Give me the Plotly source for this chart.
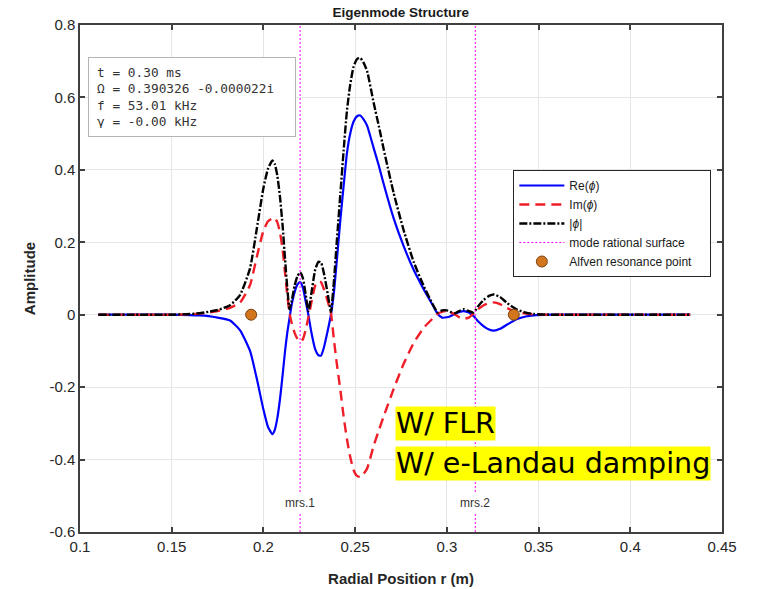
import plotly.graph_objects as go

# ---------------- data ----------------
r = [0.110, 0.130, 0.150, 0.160, 0.165, 0.170, 0.175, 0.1818, 0.1873, 0.1927,
     0.1964, 0.2000, 0.2025, 0.2049, 0.2062, 0.2076, 0.2091, 0.2105, 0.2118, 0.2130,
     0.2142, 0.2155, 0.2170, 0.2185, 0.2200, 0.2215, 0.2230, 0.2245, 0.2260, 0.2282,
     0.2300, 0.2314, 0.2330, 0.2350, 0.2368, 0.2385, 0.2400, 0.2420, 0.2437, 0.2455,
     0.2473, 0.2491, 0.2510, 0.2528, 0.2545, 0.2565, 0.2601, 0.2630, 0.2656, 0.2710,
     0.2764, 0.2819, 0.2874, 0.2928, 0.2950, 0.2974, 0.3000, 0.3019, 0.3046, 0.3070,
     0.3092, 0.3120, 0.3146, 0.3170, 0.3201, 0.3230, 0.3256, 0.3290, 0.3329, 0.3383,
     0.3430, 0.3474, 0.3550, 0.4000, 0.4327]

re_phi = [0, 0, 0, -0.001, -0.002, -0.004, -0.008, -0.016, -0.043, -0.100,
          -0.177, -0.262, -0.310, -0.330, -0.318, -0.285, -0.230, -0.165, -0.100, -0.050,
          -0.010, 0.030, 0.062, 0.083, 0.090, 0.075, 0.038, 0.000, -0.045, -0.095,
          -0.112, -0.113, -0.090, -0.045, 0.000, 0.065, 0.150, 0.265, 0.355, 0.445,
          0.500, 0.533, 0.548, 0.550, 0.540, 0.522, 0.460, 0.410, 0.360, 0.266,
          0.190, 0.124, 0.070, 0.022, 0.002, -0.008, -0.007, -0.004, 0.003, 0.008,
          0.010, 0.006, -0.004, -0.018, -0.032, -0.041, -0.044, -0.039, -0.027, -0.012,
          -0.005, -0.002, 0, 0, 0]

im_phi = [0, 0, 0, 0.001, 0.003, 0.006, 0.010, 0.019, 0.034, 0.082,
          0.160, 0.232, 0.258, 0.266, 0.267, 0.255, 0.225, 0.178, 0.115, 0.055,
          0.005, -0.025, -0.050, -0.066, -0.075, -0.068, -0.042, -0.008, 0.030, 0.080,
          0.093, 0.090, 0.070, 0.038, 0.005, -0.072, -0.135, -0.210, -0.280, -0.343,
          -0.392, -0.428, -0.445, -0.448, -0.440, -0.425, -0.362, -0.318, -0.280, -0.205,
          -0.136, -0.078, -0.036, -0.008, 0.003, 0.008, 0.010, 0.007, 0.000, -0.008,
          -0.011, -0.008, 0.004, 0.015, 0.026, 0.032, 0.034, 0.029, 0.018, 0.007,
          0.003, 0.001, 0, 0, 0]

abs_phi = [0, 0, 0, 0.002, 0.004, 0.008, 0.013, 0.026, 0.055, 0.128,
           0.238, 0.350, 0.403, 0.426, 0.416, 0.383, 0.322, 0.243, 0.152, 0.074,
           0.015, 0.040, 0.080, 0.106, 0.117, 0.101, 0.057, 0.010, 0.054, 0.124,
           0.146, 0.144, 0.114, 0.059, 0.008, 0.097, 0.202, 0.338, 0.452, 0.562,
           0.635, 0.684, 0.706, 0.709, 0.697, 0.673, 0.585, 0.519, 0.456, 0.336,
           0.234, 0.146, 0.079, 0.024, 0.006, 0.012, 0.012, 0.008, 0.004, 0.011,
           0.015, 0.010, 0.006, 0.023, 0.041, 0.052, 0.056, 0.049, 0.032, 0.014,
           0.006, 0.002, 0, 0, 0]

mrs_r = [0.2200, 0.3155]
mrs_labels = ["mrs.1", "mrs.2"]
mrs_label_y = -0.52

alfven_r = [0.1933, 0.3365]
alfven_amp = [0.0, 0.0]

x_range = [0.1, 0.45]
y_range = [-0.6, 0.8]
x_ticks = [0.1, 0.15, 0.2, 0.25, 0.3, 0.35, 0.4, 0.45]
x_ticklabels = ["0.1", "0.15", "0.2", "0.25", "0.3", "0.35", "0.4", "0.45"]
y_ticks = [-0.6, -0.4, -0.2, 0, 0.2, 0.4, 0.6, 0.8]
y_ticklabels = ["-0.6", "-0.4", "-0.2", "0", "0.2", "0.4", "0.6", "0.8"]

info_lines = ["t = 0.30 ms", "Ω = 0.390326 -0.000022i", "f = 53.01 kHz", "γ = -0.00 kHz"]
note_lines = ["W/ FLR", "W/ e-Landau damping"]

# ---------------- figure ----------------
SANS = "Liberation Sans, Arial, sans-serif"
PAD = "\u00a0" * 4
fig = go.Figure()

fig.add_trace(go.Scatter(x=r, y=re_phi, mode="lines", name="Re(<i>ϕ</i>)",
                         line=dict(color="#0000FF", width=2.2, shape="spline", smoothing=0.5)))
fig.add_trace(go.Scatter(x=r, y=im_phi, mode="lines", name="Im(<i>ϕ</i>)",
                         line=dict(color="#F01E28", width=2.4, dash="10px,6px",
                                   shape="spline", smoothing=0.5)))
fig.add_trace(go.Scatter(x=r, y=abs_phi, mode="lines", name="|<i>ϕ</i>|",
                         line=dict(color="#000000", width=2.4, dash="8px,2px,2px,2px",
                                   shape="spline", smoothing=0.5)))

for i, xm in enumerate(mrs_r):
    fig.add_trace(go.Scatter(x=[xm, xm], y=y_range, mode="lines",
                             name="mode rational surface", legendgroup="mrs",
                             showlegend=(i == 0),
                             line=dict(color="#FF00FF", width=1, dash="2px,2px")))

fig.add_trace(go.Scatter(x=alfven_r, y=alfven_amp, mode="markers",
                         name="Alfven resonance point" + PAD,
                         marker=dict(color="#D2761E", size=11,
                                     line=dict(color="#7A4010", width=1))))

for xm, lab in zip(mrs_r, mrs_labels):
    fig.add_annotation(x=xm, y=mrs_label_y, xref="x", yref="y", text=lab,
                       showarrow=False, bgcolor="white", borderpad=2,
                       font=dict(family=SANS, size=12, color="#333333"))

fig.add_annotation(x=0.0117, y=0.937, xref="paper", yref="paper",
                   xanchor="left", yanchor="top", align="left",
                   text="<br>".join(info_lines), showarrow=False,
                   width=190, height=62,
                   bgcolor="white", bordercolor="#B4B4B4", borderwidth=1, borderpad=8,
                   font=dict(family="DejaVu Sans Mono, monospace", size=12.8, color="#333333"))

note_y = [0.248, 0.169]
for txt, yy in zip(note_lines, note_y):
    fig.add_annotation(x=0.4905, y=yy, xref="paper", yref="paper",
                       xanchor="left", yanchor="top", align="left",
                       text=txt, showarrow=False, bgcolor="#FFFF00", borderpad=0,
                       font=dict(family="DejaVu Sans, sans-serif", size=28.5, color="black"))

axis_common = dict(showgrid=True, gridcolor="#E6E6E6", gridwidth=1,
                   showline=True, linecolor="#404040", linewidth=1.5, mirror="ticks",
                   ticks="inside", ticklen=5, tickcolor="#404040", tickwidth=1.5,
                   zeroline=False, automargin=False,
                   tickfont=dict(family=SANS, size=15, color="#262626"))

fig.update_xaxes(range=x_range, tickvals=x_ticks, ticktext=x_ticklabels,
                 title=dict(text="Radial Position r (m)", standoff=20,
                            font=dict(family=SANS, size=15, color="#262626", weight="bold")),
                 **axis_common)
fig.update_yaxes(range=y_range, tickvals=y_ticks, ticktext=y_ticklabels,
                 title=dict(text="Amplitude", standoff=10,
                            font=dict(family=SANS, size=15, color="#262626", weight="bold")),
                 **axis_common)

fig.update_layout(
    width=762, height=589,
    margin=dict(l=80, r=40, t=25, b=57),
    paper_bgcolor="white", plot_bgcolor="white",
    title=dict(text="Eigenmode Structure", x=0.526, xanchor="center",
               y=1 - 12 / 589, yanchor="middle",
               font=dict(family=SANS, size=13.5, color="#1a1a1a", weight="bold")),
    legend=dict(x=0.675, y=0.714, xanchor="left", yanchor="top",
                bgcolor="white", bordercolor="#262626", borderwidth=1,
                font=dict(family=SANS, size=12, color="#1a1a1a"),
                tracegroupgap=0, itemwidth=45),
    showlegend=True,
)

fig.write_html("out.html")
